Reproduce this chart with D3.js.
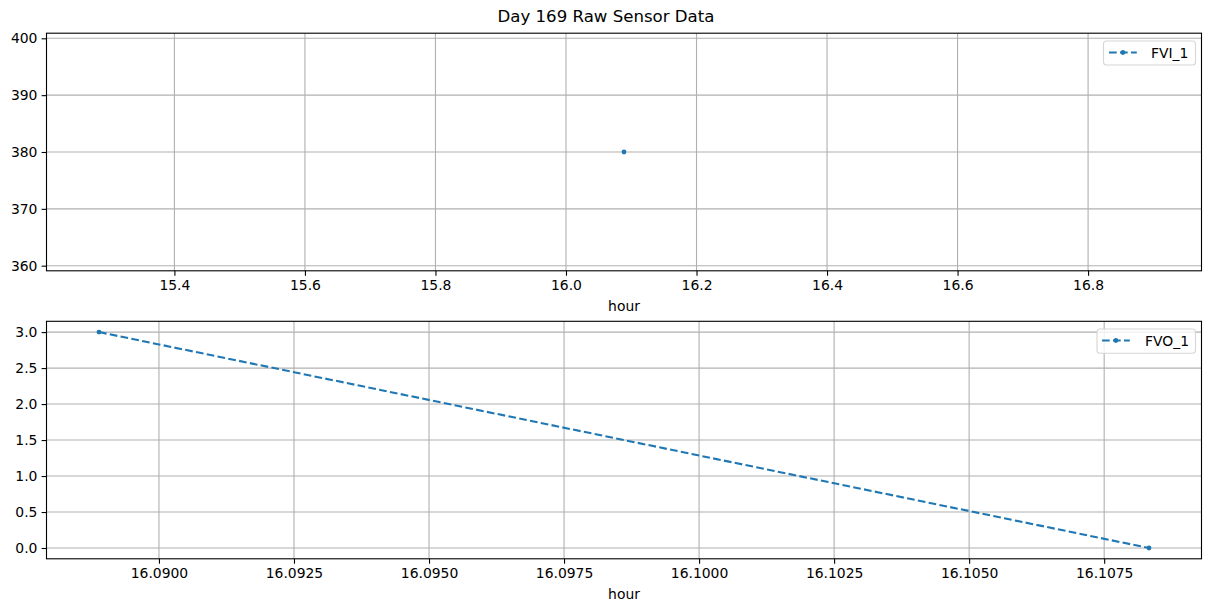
<!DOCTYPE html>
<html>
<head>
<meta charset="utf-8">
<script src="https://cdn.jsdelivr.net/npm/d3@7"></script>
<style>
  html, body { margin: 0; padding: 0; background: #fff; }
  svg { display: block; font-family: "DejaVu Sans", sans-serif; }
</style>
</head>
<body>
<svg id="chart" width="1211" height="611"></svg>
<script>
// ---- data ----
const title = "Day 169 Raw Sensor Data";
const fviHours = [16.08889];
const fviValues = [380];
const fviLabel = "FVI_1";
const fvoHours = [16.08889, 16.10833];
const fvoValues = [3.0, 0.0];
const fvoLabel = "FVO_1";
const topXTicks = [15.4, 15.6, 15.8, 16.0, 16.2, 16.4, 16.6, 16.8];
const topYTicks = [360, 370, 380, 390, 400];
const botXTicks = [16.0900, 16.0925, 16.0950, 16.0975, 16.1000, 16.1025, 16.1050, 16.1075];
const botYTicks = [0.0, 0.5, 1.0, 1.5, 2.0, 2.5, 3.0];
const xLabel = "hour";

// ---- helpers ----
const color = "#1f77b4";
const svg = d3.select("#chart");

function mplDomain(vals) {
  let lo = d3.min(vals), hi = d3.max(vals);
  if (hi - lo < 1e-12) { const e = 0.05 * Math.abs(lo); lo -= e; hi += e; }
  const m = 0.05 * (hi - lo);
  return [lo - m, hi + m];
}

svg.append("text")
  .attr("x", 606).attr("y", 22)
  .attr("text-anchor", "middle")
  .attr("font-size", "16.6px")
  .attr("fill", "#000")
  .text(title);

function panel(opts) {
  const { left, right, top, bottom, xs, ys, xTicks, yTicks, xFmt, yFmt, label, legend } = opts;
  const x = d3.scaleLinear().domain(mplDomain(xs)).range([left, right]);
  const y = d3.scaleLinear().domain(mplDomain(ys)).range([bottom, top]);
  const g = svg.append("g");

  // grid
  g.selectAll(".gx").data(xTicks).enter().append("line")
    .attr("x1", d => x(d)).attr("x2", d => x(d))
    .attr("y1", top).attr("y2", bottom)
    .attr("stroke", "#b0b0b0").attr("stroke-width", 1.1);
  g.selectAll(".gy").data(yTicks).enter().append("line")
    .attr("x1", left).attr("x2", right)
    .attr("y1", d => y(d)).attr("y2", d => y(d))
    .attr("stroke", "#b0b0b0").attr("stroke-width", 1.1);

  // axes
  const xAxis = d3.axisBottom(x).tickValues(xTicks).tickFormat(xFmt).tickSize(4.9).tickPadding(4.2);
  const yAxis = d3.axisLeft(y).tickValues(yTicks).tickFormat(yFmt).tickSize(4.9).tickPadding(4.2);
  const ax = g.append("g").attr("transform", `translate(0,${bottom})`).call(xAxis);
  const ay = g.append("g").attr("transform", `translate(${left},0)`).call(yAxis);
  [ax, ay].forEach(a => {
    a.select(".domain").remove();
    a.selectAll("line").attr("stroke", "#000").attr("stroke-width", 1.1);
    a.selectAll("text").attr("font-size", "13.9px").attr("fill", "#000").attr("font-family", "DejaVu Sans");
  });

  // frame
  g.append("rect").attr("x", left).attr("y", top)
    .attr("width", right - left).attr("height", bottom - top)
    .attr("fill", "none").attr("stroke", "#000").attr("stroke-width", 1.1);

  // x label
  g.append("text").attr("x", (left + right) / 2).attr("y", bottom + 40.5)
    .attr("text-anchor", "middle").attr("font-size", "13.9px").attr("fill", "#000")
    .text(xLabel);

  // data
  const pts = xs.map((v, i) => [v, ys[i]]);
  const clip = "clip" + Math.round(top);
  svg.append("clipPath").attr("id", clip).append("rect")
    .attr("x", left).attr("y", top).attr("width", right - left).attr("height", bottom - top);
  const dg = g.append("g").attr("clip-path", `url(#${clip})`);
  dg.append("path").datum(pts)
    .attr("d", d3.line().x(d => x(d[0])).y(d => y(d[1])))
    .attr("fill", "none").attr("stroke", color).attr("stroke-width", 2.1)
    .attr("stroke-dasharray", "7.7,3.3");
  dg.selectAll(".pt").data(pts).enter().append("circle")
    .attr("cx", d => x(d[0])).attr("cy", d => y(d[1])).attr("r", 2.4)
    .attr("fill", color);

  // legend
  const L = legend;
  g.append("rect").attr("x", L.x0).attr("y", L.y0)
    .attr("width", L.x1 - L.x0).attr("height", L.y1 - L.y0)
    .attr("rx", 3).attr("fill", "rgba(255,255,255,0.8)")
    .attr("stroke", "#d6d6d6").attr("stroke-width", 1.1);
  g.append("line").attr("x1", L.lx).attr("x2", L.lx + 27.8)
    .attr("y1", L.ly).attr("y2", L.ly)
    .attr("stroke", color).attr("stroke-width", 2.1).attr("stroke-dasharray", "7.7,3.3");
  g.append("circle").attr("cx", L.lx + 13.9).attr("cy", L.ly).attr("r", 2.4).attr("fill", color);
  g.append("text").attr("x", L.tx).attr("y", L.ly + 5)
    .attr("font-size", "13.9px").attr("fill", "#000").text(label);
}

panel({
  left: 46.5, right: 1201.5, top: 33.2, bottom: 270.8,
  xs: fviHours, ys: fviValues,
  xTicks: topXTicks, yTicks: topYTicks,
  xFmt: d3.format(".1f"), yFmt: d3.format("d"),
  label: fviLabel,
  legend: { x0: 1103.5, x1: 1195.5, y0: 41, y1: 65, lx: 1109, ly: 52.5, tx: 1151 }
});

panel({
  left: 46.5, right: 1201.5, top: 321.3, bottom: 558.8,
  xs: fvoHours, ys: fvoValues,
  xTicks: botXTicks, yTicks: botYTicks,
  xFmt: d3.format(".4f"), yFmt: d3.format(".1f"),
  label: fvoLabel,
  legend: { x0: 1097, x1: 1195.5, y0: 329, y1: 353.3, lx: 1102, ly: 340.5, tx: 1145 }
});
</script>
</body>
</html>
